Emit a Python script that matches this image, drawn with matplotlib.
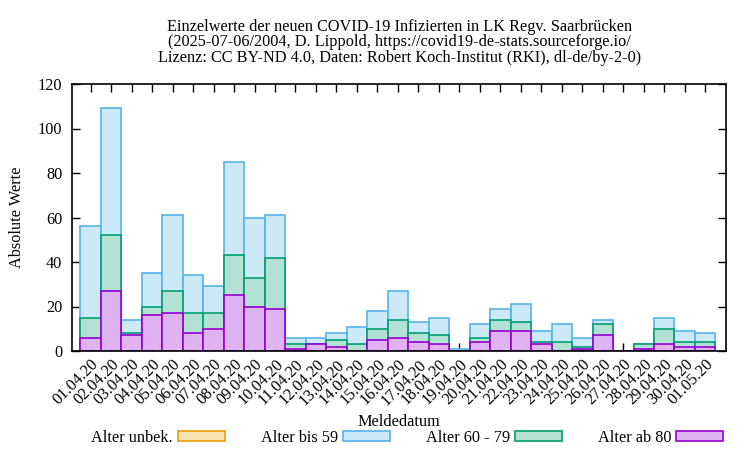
import matplotlib
matplotlib.use("Agg")
import matplotlib.pyplot as plt
from matplotlib.patches import Patch
import numpy as np

dates = ["01.04.20", "02.04.20", "03.04.20", "04.04.20", "05.04.20", "06.04.20",
         "07.04.20", "08.04.20", "09.04.20", "10.04.20", "11.04.20", "12.04.20",
         "13.04.20", "14.04.20", "15.04.20", "16.04.20", "17.04.20", "18.04.20",
         "19.04.20", "20.04.20", "21.04.20", "22.04.20", "23.04.20", "24.04.20",
         "25.04.20", "26.04.20", "27.04.20", "28.04.20", "29.04.20", "30.04.20",
         "01.05.20"]
# cumulative heights as drawn (overlapping bars)
total = [56, 109, 14, 35, 61, 34, 29, 85, 60, 61, 6, 6, 8, 11, 18, 27, 13, 15,
         1, 12, 19, 21, 9, 12, 6, 14, 0, 3, 15, 9, 8]
age60plus = [15, 52, 8, 20, 27, 17, 17, 43, 33, 42, 3, 3, 5, 3, 10, 14, 8, 7,
             0, 6, 14, 13, 4, 4, 2, 12, 0, 3, 10, 4, 4]
age80plus = [6, 27, 7, 16, 17, 8, 10, 25, 20, 19, 1, 3, 2, 0, 5, 6, 4, 3,
             0, 4, 9, 9, 3, 0, 1, 7, 0, 1, 3, 2, 2]
unknown = [0] * 31

FS = 11.7
plt.rcParams['font.family'] = ['Liberation Serif', 'DejaVu Serif']
plt.rcParams['font.size'] = FS

c_unk = '#e69f00'
c_59 = '#56b4e9'
c_60 = '#009e73'
c_80 = '#9400d3'

def light(c, a=0.3):
    r, g, b = matplotlib.colors.to_rgb(c)
    return (1 - a + a * r, 1 - a + a * g, 1 - a + a * b)

fig = plt.figure(figsize=(7.5, 4.5), dpi=100)
ax = fig.add_axes([72 / 750, 1 - 351 / 450, (725.7 - 72) / 750, (351 - 84) / 450])

x = np.arange(len(dates))
ax.bar(x, total, width=1.0, color=light(c_59), edgecolor=c_59, linewidth=1.2, zorder=2)
ax.bar(x, age60plus, width=1.0, color=light(c_60), edgecolor=c_60, linewidth=1.2, zorder=3)
ax.bar(x, age80plus, width=1.0, color=light(c_80), edgecolor=c_80, linewidth=1.2, zorder=4)
ax.bar(x, unknown, width=1.0, color=light(c_unk), edgecolor=c_unk, linewidth=0, zorder=5)

ax.set_xlim(-0.91, 31.0)
ax.set_ylim(0, 120)
ax.set_yticks(range(0, 121, 20))
ax.set_xticks(x)
ax.set_xticklabels(dates, rotation=45, ha='right', va='top', rotation_mode='anchor')
ax.tick_params(axis='both', direction='in', length=6, width=1, top=True, right=True,
               color='black', labelsize=FS)
ax.tick_params(axis='x', pad=4)
ax.tick_params(axis='y', pad=7)
for sp in ax.spines.values():
    sp.set_linewidth(1.2)
    sp.set_zorder(10)

ax.set_ylabel('Absolute Werte', labelpad=9)
ax.set_xlabel('Meldedatum', labelpad=4)

fig.text(0.533, 0.906,
         "Einzelwerte der neuen COVID-19 Infizierten in LK Regv. Saarbrücken\n"
         "(2025-07-06/2004, D. Lippold, https://covid19-de-stats.sourceforge.io/\n"
         "Lizenz: CC BY-ND 4.0, Daten: Robert Koch-Institut (RKI), dl-de/by-2-0)",
         ha='center', va='center', linespacing=0.95, fontsize=FS)

handles = [Patch(facecolor=light(c), edgecolor=c, linewidth=1.2)
           for c in (c_unk, c_59, c_60, c_80)]
labels = ['Alter unbek.', 'Alter bis 59', 'Alter 60 - 79', 'Alter ab 80']
fig.legend(handles, labels, loc='center', bbox_to_anchor=(0.543, 0.027), ncol=4,
           frameon=False, markerfirst=False, handlelength=2.9, handleheight=0.62,
           columnspacing=2.2, handletextpad=0.3, borderpad=0, borderaxespad=0)

fig.savefig('out.png', dpi=100)
